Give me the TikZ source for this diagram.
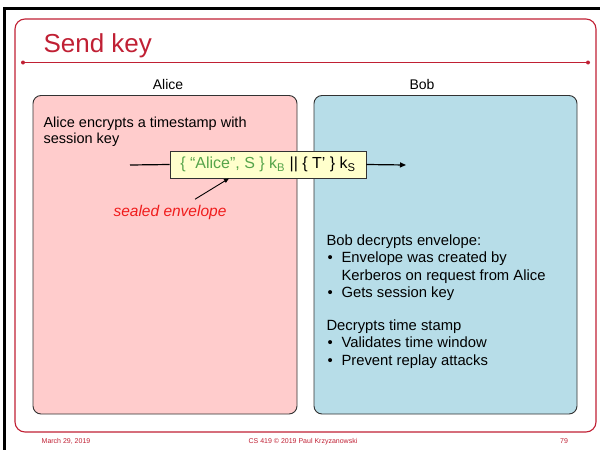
\documentclass[tikz,border=0pt]{standalone}
\usepackage{fontspec}
\setmainfont{Liberation Sans}
\usetikzlibrary{arrows.meta}

\definecolor{slidered}{RGB}{192,32,52}
\definecolor{alicepink}{RGB}{255,204,204}
\definecolor{bobblue}{RGB}{183,221,232}
\definecolor{msgyellow}{RGB}{255,255,204}
\definecolor{msggreen}{RGB}{86,164,74}
\definecolor{notered}{RGB}{240,28,28}
\definecolor{boxgray}{RGB}{50,50,50}

\newcommand{\bitem}{\makebox[15pt][l]{\hspace{1pt}\textbullet}}
\newcommand{\bindent}{\hspace*{15pt}}

\begin{document}
\begin{tikzpicture}[x=1pt,y=-1pt,
    partybox/.style={draw=boxgray, line width=0.9pt, rounded corners=8pt},
    bodytext/.style={anchor=base west, align=left, font=\fontsize{14.8}{17.5}\selectfont},
    headtext/.style={anchor=base, font=\fontsize{14}{17}\selectfont},
    msgbox/.style={draw=boxgray, fill=msgyellow, line width=0.8pt, minimum width=196pt, minimum height=27pt, inner sep=0pt, font=\fontsize{16}{18}\selectfont},
    msgarrow/.style={-{Triangle[length=6pt,width=5pt]}, line width=1.2pt},
    footer/.style={anchor=base, text=slidered, font=\fontsize{7}{8}\selectfont}]
    \useasboundingbox (0,0) rectangle (600,450);

    % slide frame
    \draw[line width=3pt] (4.5,450) -- (4.5,8.5) -- (600,8.5);
    \draw[slidered, line width=1.1pt, rounded corners=10pt] (15,19) rectangle (596,432);
    \node[anchor=base west, text=slidered, font=\fontsize{26}{30}\selectfont] (title) at (40,52) {Send key};
    \draw[slidered, line width=1.1pt] (23,62.5) -- (588,62.5);
    \fill[slidered] (23,62.5) circle (2) (588,62.5) circle (2);

    % the two parties
    \node[headtext] (alicehead) at (168,89) {Alice};
    \node[headtext] (bobhead) at (422,89) {Bob};
    \draw[partybox, fill=alicepink] (33,95.5) rectangle (297,414);
    \draw[partybox, fill=bobblue] (314,95.5) rectangle (577,414);

    % base of a multi-line node is its last line
    \node[bodytext, font=\fontsize{14.5}{15.5}\selectfont] (alicenotes) at (40,143)
        {Alice encrypts a timestamp with\\session key};

    % message from Alice to Bob
    \coordinate (msgstart) at (130,165);
    \coordinate (msgend) at (406,165);
    \node[msgbox] (msg) at (268,164.5)
        {{\color{msggreen}\{ “Alice”, S \} k\textsubscript{B}} || \{ T’ \} k\textsubscript{S}};
    \draw[line width=1.2pt] (msgstart) -- (msg.west);
    \draw[msgarrow] (msg.east) -- (msgend);

    \node[anchor=base, text=notered, font=\fontsize{15.5}{18}\selectfont\itshape] (sealed) at (170,216) {sealed envelope};
    \draw[-{Triangle[length=5pt,width=4pt]}, line width=0.9pt] ([xshift=25pt,yshift=2pt]sealed.north) -- ([xshift=-39pt]msg.south);

    \node[bodytext] (bobnotes) at (323,365) {Bob decrypts envelope:\\
        \bitem Envelope was created by\\
        \bindent Kerberos on request from Alice\\
        \bitem Gets session key\\[15pt]
        Decrypts time stamp\\
        \bitem Validates time window\\
        \bitem Prevent replay attacks};

    % footer
    \node[footer] (date) at (66,443) {March 29, 2019};
    \node[footer] (course) at (303,443) {CS 419 © 2019 Paul Krzyzanowski};
    \node[footer] (page) at (564,443) {79};
\end{tikzpicture}
\end{document}
